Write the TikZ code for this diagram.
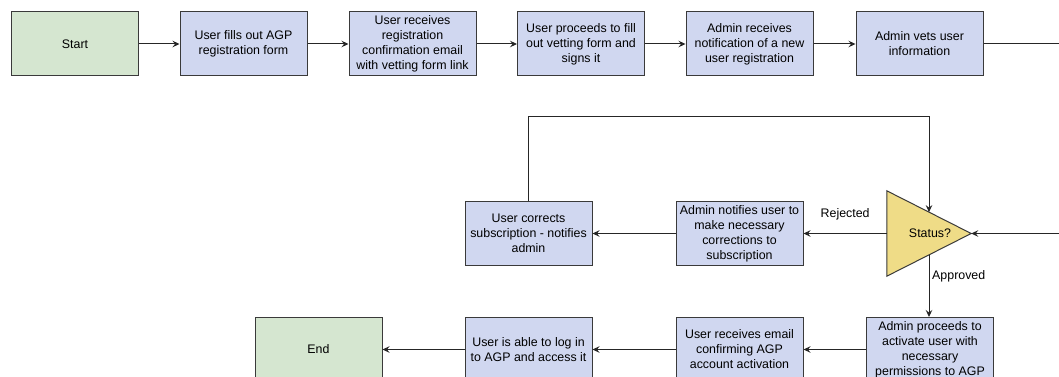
\documentclass[tikz,border=0pt]{standalone}
\usepackage{fontspec}
\setmainfont{Liberation Sans}
\usetikzlibrary{arrows.meta,calc}
\definecolor{boxblue}{HTML}{D0D7F0}
\definecolor{termgreen}{HTML}{D5E6D0}
\definecolor{decyellow}{HTML}{EFDC87}
\definecolor{linegray}{HTML}{3A3A3A}
\begin{document}
\begin{tikzpicture}[x=1pt,y=-1pt,
  box/.style={draw=linegray, line width=1pt, fill=boxblue, minimum width=127pt, minimum height=64pt, align=center, font=\fontsize{12.4}{15}\selectfont, inner sep=0.5pt},
  term/.style={box, fill=termgreen},
  arr/.style={draw=black!85, line width=1pt, -{Stealth[length=7pt,width=6.5pt,inset=2.5pt]}},
  lbl/.style={font=\fontsize{12.4}{15}\selectfont, inner sep=0pt},
]
\useasboundingbox (0,0) rectangle (1059,377);
\clip (0,0) rectangle (1059,377);
\fill[white] (0,0) rectangle (1059,377);

% top row
\node[term] (start) at (75,44) {Start};
\node[box] (b2) at (243.5,44) {User fills out AGP\\registration form};
\node[box] (b3) at (412.5,44) {User receives\\registration\\confirmation email\\with vetting form link};
\node[box] (b4) at (581,44) {User proceeds to fill\\out vetting form and\\signs it};
\node[box] (b5) at (749.5,44) {Admin receives\\notification of a new\\user registration};
\node[box] (b6) at (919.5,44) {Admin vets user\\information};

% decision
\node[minimum width=84pt, minimum height=85pt, inner sep=0pt] (st) at (929,233.5) {};
\draw[draw=linegray, line width=1pt, fill=decyellow] (st.north west) -- (st.east) -- (st.south west) -- cycle;
\node[lbl] (stlabel) at (930,233.5) {Status?};
\coordinate (sttop) at ($(st.north west)!0.5!(st.east)$);
\coordinate (stbot) at ($(st.south west)!0.5!(st.east)$);

% middle row
\node[box] (notify) at (739.5,233.5) {Admin notifies user to\\make necessary\\corrections to\\subscription};
\node[box] (correct) at (528.5,233.5) {User corrects\\subscription - notifies\\admin};

% bottom row
\node[box] (activate) at (930,349.5) {Admin proceeds to\\activate user with\\necessary\\permissions to AGP};
\node[box] (email) at (739.5,349.5) {User receives email\\confirming AGP\\account activation};
\node[box] (login) at (528.5,349.5) {User is able to log in\\to AGP and access it};
\node[term] (end) at (318.5,349.5) {End};

% connectors top row
\draw[arr] (start) -- (b2);
\draw[arr] (b2) -- (b3);
\draw[arr] (b3) -- (b4);
\draw[arr] (b4) -- (b5);
\draw[arr] (b5) -- (b6);
\coordinate (r1) at (1080,44);
\coordinate (r2) at (1080,233.5);
\draw[arr] (b6.east) -- (r1) -- (r2) -- (st.east);

% decision outputs
\draw[arr] (st.west) -- (notify.east) node[lbl, pos=0.5, above=13pt] (rej) {Rejected};
\draw[arr] (notify) -- (correct);
\coordinate (loopy) at (0,117);
\draw[arr] (correct.north) -- (correct.north |- loopy) -- (sttop |- loopy) -- (sttop);
\draw[arr] (stbot) -- (stbot |- activate.north);
\node[lbl, anchor=west] (appr) at (932,276) {Approved};

% bottom row connectors
\draw[arr] (activate) -- (email);
\draw[arr] (email) -- (login);
\draw[arr] (login) -- (end);
\end{tikzpicture}
\end{document}
